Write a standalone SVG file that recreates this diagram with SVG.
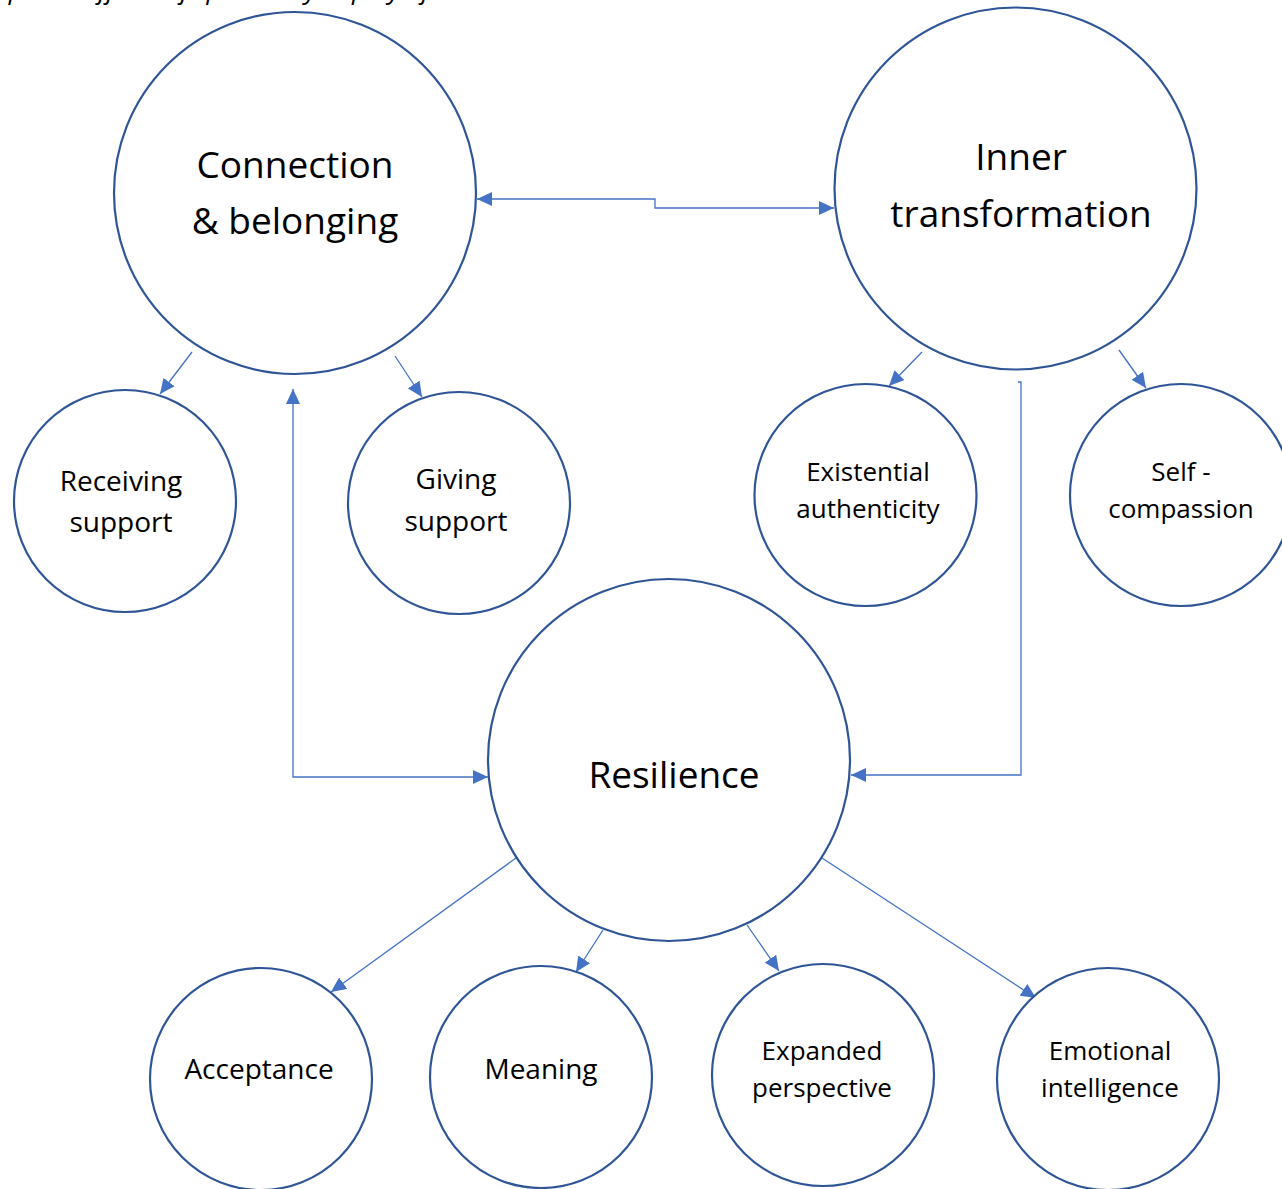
<svg xmlns="http://www.w3.org/2000/svg" width="1282" height="1189" viewBox="0 0 1282 1189">
<style>
.node circle{fill:#fff;stroke:#2F5597;stroke-width:2.2}
.big{font-family:"Open Sans","Noto Sans",sans-serif;font-size:37px;fill:#000;text-anchor:middle}
.sm{font-family:"Open Sans","Noto Sans",sans-serif;font-size:26px;fill:#000;text-anchor:middle}
.sm2{font-family:"Open Sans","Noto Sans",sans-serif;font-size:28px;fill:#000;text-anchor:middle}
.cap{font-family:"Open Sans","Liberation Sans",sans-serif;font-size:26px;font-style:italic;fill:#000}
#connectors path{fill:none;stroke:#4472C4;stroke-width:1.3}
</style>
<defs>
<marker id="ah" markerUnits="userSpaceOnUse" markerWidth="16" markerHeight="14" viewBox="0 0 16 14" refX="15" refY="7" orient="auto-start-reverse">
<path d="M0,0 L15,7 L0,14 z" fill="#4472C4"/>
</marker>
</defs>
<rect width="1282" height="1189" fill="#fff"/>
<text class="cap" x="-6" y="-1">apeutic effects of spirituality in play of the resilience and its outcomes</text>
<g id="connectors">
<path d="M834,208 H655 V199 H477" marker-start="url(#ah)" marker-end="url(#ah)"/>
<path d="M293,389 V777 H488" marker-start="url(#ah)" marker-end="url(#ah)"/>
<path d="M1018,382 H1021 V775 H851" marker-end="url(#ah)"/>
<path d="M192,352 L160,394" marker-end="url(#ah)"/>
<path d="M395,356 L422,397" marker-end="url(#ah)"/>
<path d="M922,352 L889,386" marker-end="url(#ah)"/>
<path d="M1119,350 L1146,388" marker-end="url(#ah)"/>
<path d="M516,858 L331,992" marker-end="url(#ah)"/>
<path d="M603,930 L576,972" marker-end="url(#ah)"/>
<path d="M747,925 L779,971" marker-end="url(#ah)"/>
<path d="M822,858 L1036,998" marker-end="url(#ah)"/>
</g>
<g id="connection" class="node"><circle cx="295" cy="193" r="181"/><text class="big" x="295" y="178">Connection</text><text class="big" x="295" y="234">&amp; belonging</text></g>
<g id="inner" class="node"><circle cx="1015.5" cy="188.5" r="181"/><text class="big" x="1021" y="170">Inner</text><text class="big" x="1021" y="227">transformation</text></g>
<g id="resilience" class="node"><circle cx="669" cy="760" r="181"/><text class="big" x="674" y="788">Resilience</text></g>
<g id="receiving" class="node"><circle cx="125" cy="501" r="111"/><text class="sm2" x="121" y="491">Receiving</text><text class="sm2" x="121" y="532">support</text></g>
<g id="giving" class="node"><circle cx="459" cy="503" r="111"/><text class="sm2" x="456" y="489">Giving</text><text class="sm2" x="456" y="531">support</text></g>
<g id="existential" class="node"><circle cx="865.5" cy="495" r="111"/><text class="sm" x="868" y="481">Existential</text><text class="sm" x="868" y="518">authenticity</text></g>
<g id="selfcomp" class="node"><circle cx="1181" cy="495" r="111"/><text class="sm" x="1181" y="481">Self -</text><text class="sm" x="1181" y="518">compassion</text></g>
<g id="acceptance" class="node"><circle cx="261" cy="1079" r="111"/><text class="sm2" x="259" y="1079">Acceptance</text></g>
<g id="meaning" class="node"><circle cx="541" cy="1077" r="111"/><text class="sm2" x="541" y="1079">Meaning</text></g>
<g id="expanded" class="node"><circle cx="823" cy="1075" r="111"/><text class="sm" x="822" y="1060">Expanded</text><text class="sm" x="822" y="1097">perspective</text></g>
<g id="emotional" class="node"><circle cx="1108" cy="1079" r="111"/><text class="sm" x="1110" y="1060">Emotional</text><text class="sm" x="1110" y="1097">intelligence</text></g>
</svg>
